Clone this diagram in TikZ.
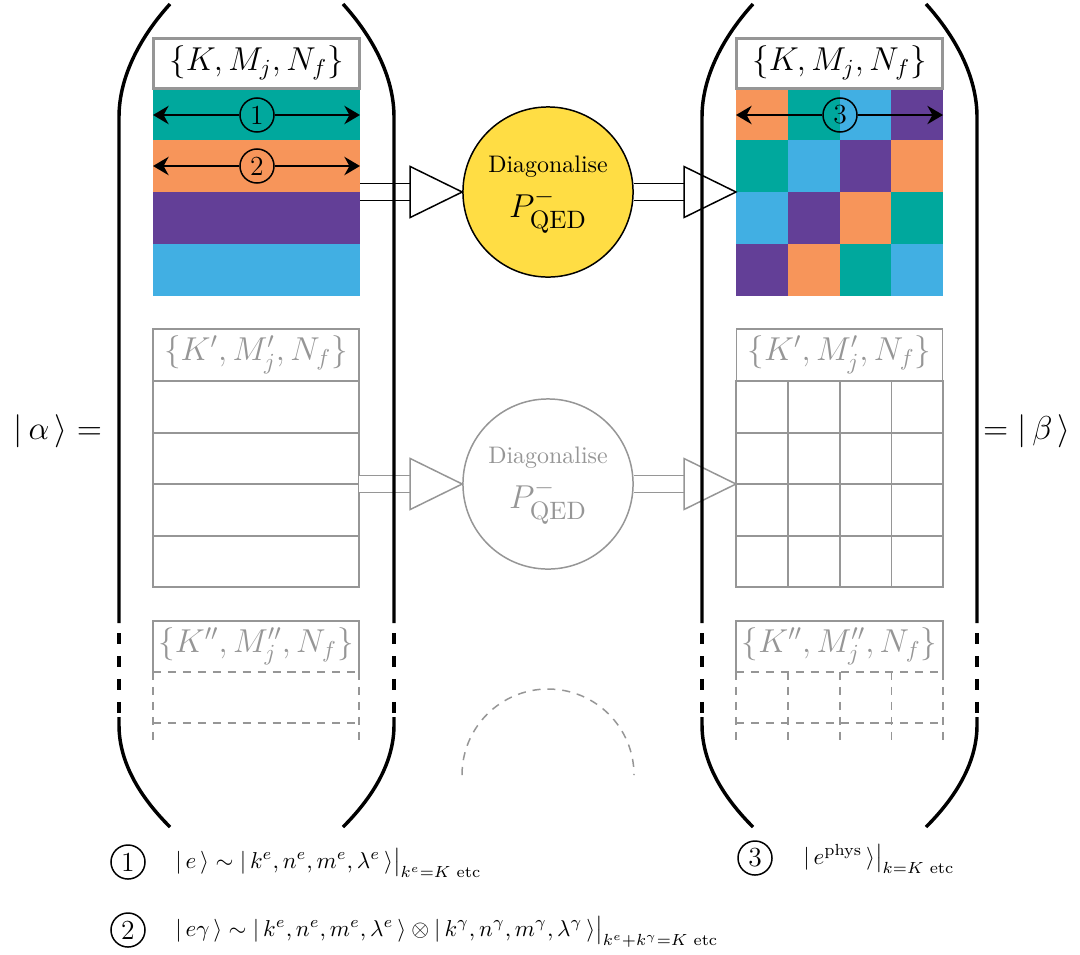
\documentclass[tikz,border=0pt]{standalone}
\usepackage{amsmath}
\usetikzlibrary{arrows.meta,calc}
\definecolor{cteal}{RGB}{0,168,157}
\definecolor{corange}{RGB}{247,149,90}
\definecolor{cpurple}{RGB}{99,63,151}
\definecolor{cblue}{RGB}{65,175,227}
\definecolor{cyell}{RGB}{255,221,68}
\definecolor{cgrey}{RGB}{150,150,150}
\newcommand{\bracketside}[2]{%
  \draw[brk] ({#1+51*#2},4) .. controls ({#1+22*#2},36) and (#1,76) .. (#1,117) -- (#1,623);
  \draw[brk,dash pattern=on 4.8pt off 5.2pt] (#1,633) -- (#1,713);
  \draw[brk] (#1,717) -- (#1,725) .. controls (#1,765) and ({#1+24*#2},800) .. ({#1+51*#2},827);
}
\begin{document}
\begin{tikzpicture}[x=0.435pt,y=-0.435pt,
  brk/.style={line width=1.5pt,line cap=butt},
  hdr/.style={draw=cgrey,line width=1.3pt,minimum width=90pt,minimum height=21.75pt,inner sep=0pt,font=\Large,fill=white},
  hdrg/.style={draw=cgrey,line width=0.65pt,minimum width=89.6pt,minimum height=22.6pt,inner sep=0pt,font=\Large,text=cgrey},
  hdrd/.style={minimum width=89.6pt,minimum height=22.2pt,inner sep=0pt,font=\Large,text=cgrey},
  num/.style={circle,draw,line width=0.65pt,minimum size=14.8pt,inner sep=0pt,font=\large},
  dbl/.style={double distance=6.75pt,line width=0.65pt},
  tri/.style={draw,line width=0.65pt,fill=white,line join=miter},
  diag/.style={circle,draw,line width=0.65pt,minimum size=74pt,inner sep=0pt},
  dtxt/.style={font=\fontsize{10.4}{12}\selectfont},
  ptxt/.style={font=\fontsize{15.5}{18}\selectfont},
  leg/.style={anchor=base west,inner sep=0pt,font=\fontsize{10}{12}\selectfont},
  tip/.style={-{Stealth[length=6.8pt,width=8pt]},line width=0.85pt},
  gs/.style={cgrey,line width=0.65pt},
  gd/.style={cgrey,line width=0.65pt,dash pattern=on 3.5pt off 3pt},
]
\useasboundingbox (0,0) rectangle (1080,954);

% ---------- top left: coloured bands ----------
\fill[cteal]   (153,88)  rectangle (360,140);
\fill[corange] (153,140) rectangle (360,192);
\fill[cpurple] (153,192) rectangle (360,244);
\fill[cblue]   (153,244) rectangle (360,296);
\node[hdr] (h1) at (256.5,63) {$\{K,M_j,N_f\}$};

\node[num] (n1) at (257,115) {1};
\coordinate (n1l) at (153,115); \coordinate (n1r) at (360,115);
\draw[tip] (n1) -- (n1l); \draw[tip] (n1) -- (n1r);
\node[num] (n2) at (257,166) {2};
\coordinate (n2l) at (153,166); \coordinate (n2r) at (360,166);
\draw[tip] (n2) -- (n2l); \draw[tip] (n2) -- (n2r);

% ---------- top right: coloured matrix ----------
\foreach \r/\c/\col in {0/0/corange,0/1/cteal,0/2/cblue,0/3/cpurple,
                         1/0/cteal,1/1/cblue,1/2/cpurple,1/3/corange,
                         2/0/cblue,2/1/cpurple,2/2/corange,2/3/cteal,
                         3/0/cpurple,3/1/corange,3/2/cteal,3/3/cblue}
  \fill[\col] ({736+51.75*\c},{88+52*\r}) rectangle +(51.75,52);
\node[hdr] (h1r) at (839.5,63) {$\{K,M_j,N_f\}$};
\node[num] (n3) at (840,115) {3};
\coordinate (n3l) at (736,115); \coordinate (n3r) at (943,115);
\draw[tip] (n3) -- (n3l); \draw[tip] (n3) -- (n3r);

% ---------- top connectors ----------
\node[diag,fill=cyell] (d1) at (548,192) {};
\node[dtxt] at (548,167) {Diagonalise};
\node[ptxt] at (548,211) {$P^-_{\mathrm{QED}}$};
\coordinate (s1) at (360,192);
\coordinate (m1w) at (736,192);
\draw[dbl] (s1) -- ($(d1.west)+(-52,0)$);
\draw[tri] (d1.west) -- ++(-52,-25.5) -- ++(0,51) -- cycle;
\draw[dbl] (d1.east) -- ($(m1w)+(-52,0)$);
\draw[tri] (m1w) -- ++(-52,-25.5) -- ++(0,51) -- cycle;

% ---------- middle (grey) ----------
\node[hdrg] (h2) at (256,355) {$\{K',M'_j,N_f\}$};
\draw[gs] (153,381) rectangle (359,587);
\foreach \y in {433,484,536} \draw[gs] (153,\y) -- (359,\y);
\node[hdrg] (h2r) at (839.5,355) {$\{K',M'_j,N_f\}$};
\draw[gs] (736,381) rectangle (943,587);
\foreach \y in {433,484,536} \draw[gs] (736,\y) -- (943,\y);
\foreach \x in {788,840,891.5} \draw[gs] (\x,381) -- (\x,587);

\node[diag,draw=cgrey,fill=white] (d2) at (548,484) {};
\node[dtxt,text=cgrey] at (548,458) {Diagonalise};
\node[ptxt,text=cgrey] at (548,502) {$P^-_{\mathrm{QED}}$};
\coordinate (s2) at (359,484);
\coordinate (m2w) at (736,484);
\draw[dbl,draw=cgrey] (s2) -- ($(d2.west)+(-52,0)$);
\draw[tri,draw=cgrey] (d2.west) -- ++(-52,-25.5) -- ++(0,51) -- cycle;
\draw[dbl,draw=cgrey] (d2.east) -- ($(m2w)+(-52,0)$);
\draw[tri,draw=cgrey] (m2w) -- ++(-52,-25.5) -- ++(0,51) -- cycle;

% ---------- bottom (dashed) ----------
\node[hdrd] (h3) at (256,646.5) {$\{K'',M''_j,N_f\}$};
\draw[gs] (153,672) -- (153,621) -- (359,621) -- (359,672);
\draw[gd] (153,672) -- (359,672);
\draw[gd] (153,723) -- (359,723);
\draw[gd] (153,672) -- (153,740);
\draw[gd] (359,672) -- (359,740);
\node[hdrd] (h3r) at (839.5,646.5) {$\{K'',M''_j,N_f\}$};
\draw[gs] (736,672) -- (736,621) -- (943,621) -- (943,672);
\draw[gd] (736,672) -- (943,672);
\draw[gd] (736,723) -- (943,723);
\foreach \x in {736,788,840,891.5,943} \draw[gd] (\x,672) -- (\x,740);
\draw[gd] (462,775) arc[start angle=180,end angle=360,radius=86];

% ---------- brackets ----------
\bracketside{119}{1}
\bracketside{394}{-1}
\bracketside{702}{1}
\bracketside{977}{-1}

\node[font=\Large] (alpha) at (58,431) {$\lvert\,\alpha\,\rangle =$};
\node[font=\Large] (beta) at (1027,431) {$= \lvert\,\beta\,\rangle$};

% ---------- legend ----------
\node[num] (l1) at (128,862) {1};
\node[leg] (t1) at (175,868)
  {$\lvert\, e\,\rangle \sim \lvert\, k^e, n^e, m^e, \lambda^e\,\rangle\big|_{k^e=K\text{ etc}}$};
\node[num] (l2) at (128,930) {2};
\node[leg] (t2) at (175,936)
  {$\lvert\, e\gamma\,\rangle \sim \lvert\, k^e, n^e, m^e, \lambda^e\,\rangle \otimes \lvert\, k^\gamma, n^\gamma, m^\gamma, \lambda^\gamma\,\rangle\big|_{k^e+k^\gamma=K\text{ etc}}$};
\node[num] (l3) at (755,858) {3};
\node[leg] (t3) at (803,864)
  {$\lvert\, e^{\mathrm{phys}}\,\rangle\big|_{k=K\text{ etc}}$};
\end{tikzpicture}
\end{document}
